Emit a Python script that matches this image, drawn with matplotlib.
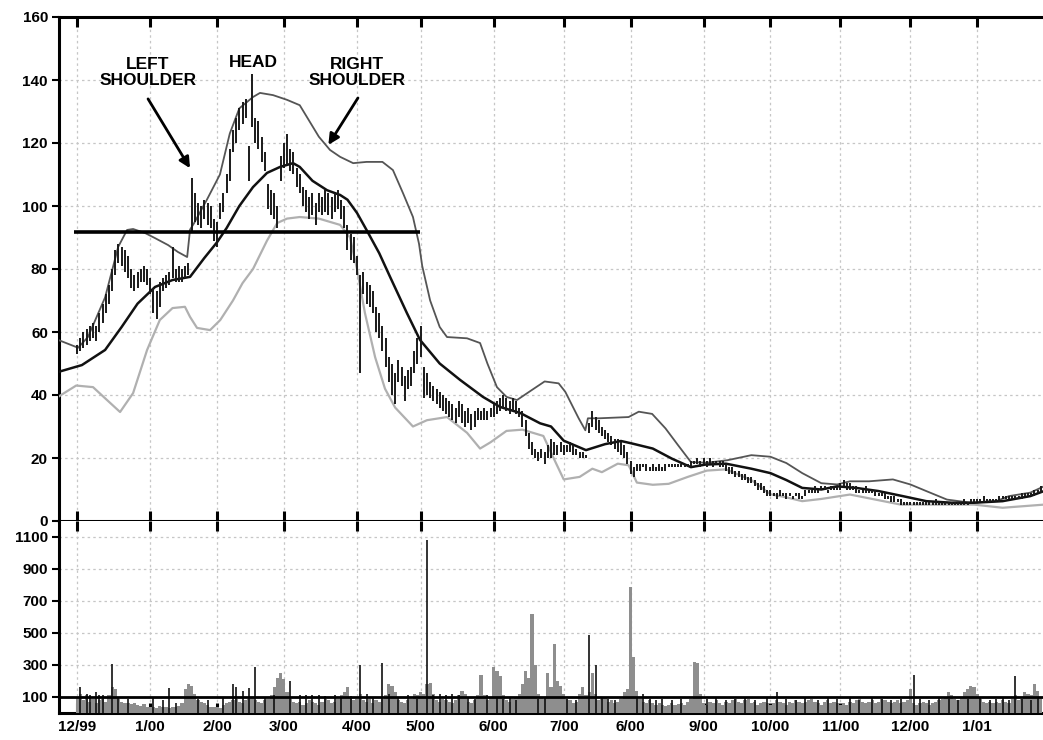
import numpy as np
import pandas as pd
import matplotlib
matplotlib.use("Agg")
import matplotlib.pyplot as plt

plt.rcParams['font.family'] = ['Liberation Sans', 'DejaVu Sans']

# ---------------- data ----------------
start_date = '1999-11-23'
n_days = 311
month_labels = ["12/99", "1/00", "2/00", "3/00", "4/00", "5/00", "6/00",
                "7/00", "6/00", "9/00", "10/00", "11/00", "12/00", "1/01"]

first_bar = 6
high = [
    56, 58, 60, 61, 62, 63, 62, 66, 69, 72,
    75, 80, 86, 88, 87, 86, 84, 80, 78, 79,
    80, 81, 80, 77, 74, 73, 76, 77, 78, 79,
    87, 80, 81, 80, 81, 82, 109, 104, 101, 100,
    102, 101, 100, 96, 95, 101, 104, 110, 118, 124,
    128, 131, 133, 134, 119, 142, 128, 127, 122, 117,
    107, 105, 104, 100, 116, 120, 123, 118, 117, 112,
    110, 106, 105, 103, 104, 101, 104, 103, 105, 104,
    103, 104, 105, 102, 100, 94, 91, 90, 84, 78,
    79, 76, 75, 73, 68, 66, 62, 58, 52, 50,
    47, 51, 49, 46, 48, 49, 54, 58, 62, 49,
    47, 44, 43, 42, 41, 40, 39, 38, 37, 36,
    38, 37, 35, 36, 34, 35, 36, 35, 36, 35,
    36, 37, 38, 39, 40, 39, 38, 39, 38, 36,
    35, 32, 28, 25, 23, 22, 23, 22, 24, 26,
    25, 24, 25, 24, 24, 25, 24, 23, 22, 22,
    21, 31, 35, 33, 32, 30, 29, 28, 27, 26,
    26, 25, 24, 22, 19, 17, 18, 18, 18, 18,
    17, 18, 17, 18, 17, 18, 18, 18, 18, 18,
    18, 18, 18, 19, 19, 20, 19, 20, 19, 20,
    19, 19, 19, 19, 18, 17, 17, 16, 16, 15,
    15, 14, 14, 13, 12, 12, 11, 10, 10, 9,
    9, 10, 9, 9, 9, 8, 9, 9, 8, 10,
    10, 10, 11, 10, 11, 11, 10, 11, 11, 11,
    12, 13, 12, 12, 11, 11, 10, 10, 11, 10,
    10, 10, 9, 9, 9, 8, 8, 8, 7, 7,
    6, 6, 6, 6, 6, 6, 6, 6, 6, 6,
    7, 6, 6, 6, 6, 6, 6, 6, 6, 7,
    6, 7, 7, 7, 7, 8, 7, 7, 7, 7,
    8, 8, 8, 8, 8, 8, 8, 9, 9, 9,
    9, 10, 10, 11]
low = [
    53, 54, 55, 56, 57, 58, 57, 60, 63, 66,
    69, 73, 78, 82, 81, 79, 77, 74, 73, 74,
    76, 76, 75, 72, 66, 64, 68, 73, 74, 75,
    77, 76, 76, 76, 77, 78, 92, 95, 94, 93,
    96, 94, 93, 89, 87, 96, 98, 104, 108, 117,
    120, 124, 126, 128, 108, 125, 120, 118, 114, 111,
    99, 97, 96, 93, 108, 112, 113, 111, 110, 106,
    104, 100, 98, 96, 97, 94, 98, 97, 98, 97,
    96, 98, 99, 96, 93, 86, 83, 82, 78, 47,
    72, 69, 68, 66, 60, 58, 54, 49, 44, 40,
    37, 44, 43, 38, 42, 43, 47, 50, 52, 39,
    40, 39, 38, 37, 36, 35, 34, 33, 32, 31,
    33, 31, 30, 31, 29, 30, 32, 32, 32, 32,
    33, 33, 34, 35, 36, 35, 34, 35, 34, 33,
    30, 27, 23, 21, 20, 19, 20, 18, 20, 20,
    21, 21, 22, 21, 22, 22, 21, 21, 20, 20,
    20, 28, 30, 29, 28, 27, 26, 25, 24, 23,
    22, 21, 20, 18, 15, 14, 16, 16, 17, 16,
    16, 16, 16, 16, 16, 16, 17, 17, 17, 17,
    17, 17, 17, 17, 18, 18, 17, 18, 17, 18,
    17, 18, 17, 17, 16, 15, 15, 14, 14, 13,
    13, 12, 12, 11, 10, 10, 9, 8, 8, 8,
    7, 8, 8, 7, 8, 7, 8, 7, 7, 8,
    9, 9, 9, 9, 10, 10, 9, 10, 10, 10,
    10, 11, 10, 10, 10, 9, 9, 9, 9, 9,
    9, 8, 8, 8, 7, 7, 6, 6, 6, 5,
    5, 5, 5, 5, 5, 5, 5, 5, 5, 5,
    5, 5, 5, 5, 5, 5, 5, 5, 5, 5,
    5, 6, 6, 6, 6, 6, 6, 6, 6, 6,
    6, 7, 7, 7, 7, 7, 7, 7, 8, 8,
    8, 8, 9, 9]

upper_d = [0, 6.3, 9.4, 14.8, 18.9, 21.7, 23.6, 27.4, 30.5, 34.6, 37.7, 40.6, 41.5,
           42.8, 46.8, 50.9, 54, 57, 61.3, 63.5, 67.6, 72, 76, 79, 82, 85.5, 88.7,
           92.8, 97, 102, 105.3, 108.5, 111.6, 113.5, 114.5, 117, 120, 122.3, 128.6,
           132.7, 135, 138, 141, 144.3, 149, 153, 157.4, 159.5, 163.7, 165.8, 166.6,
           170, 179.4, 182.6, 186.8, 191, 195, 199, 204, 210.5, 218, 224, 229, 234,
           240, 245, 249, 255, 262.5, 268, 273, 279.5, 287, 295, 299, 305.7, 310]
upper_v = [57.5, 55, 58.4, 71, 87, 92.4, 92.7, 91.4, 89.8, 87.6, 85.4, 83.8, 92.5,
           94.6, 102, 110, 123, 131, 134.6, 135.9, 135.2, 133.7, 132, 127, 122, 117.8,
           115.6, 113.6, 114, 114, 111.4, 104, 96.5, 88, 81, 70, 61.6, 58.4, 58, 56.5,
           50, 42.5, 39.4, 38.4, 41.6, 44.3, 43.7, 41, 32.6, 28.8, 32.6, 32.6, 33, 34.7,
           34, 29.4, 24, 18.7, 18.5, 19.3, 20.9, 20.4, 18.4, 15.2, 12, 11.6, 12.6, 12.6,
           13.2, 11.6, 9.5, 6.8, 5.8, 6.3, 7.9, 9, 11]

ma_d = [0, 7.5, 14.8, 20, 25, 30.5, 36, 41.5, 46, 50, 53, 57, 61.3, 65.7, 69.8,
        73.9, 76, 80, 84.6, 88.7, 91, 94, 97, 101, 104.4, 109.7, 113.8, 120, 126.4,
        133.6, 139, 145.3, 151.6, 155, 159, 166, 172, 177, 180.5, 187, 193, 199,
        203.5, 210, 218, 224, 229, 234, 240, 245, 251, 258, 265.6, 273, 281, 288,
        297, 305.7, 310]
ma_v = [47.3, 49.5, 54.3, 61.6, 69, 74.3, 76.5, 77.5, 83.5, 88.5, 93, 100, 106,
        110.5, 112.4, 113.6, 112.4, 108, 105, 103.5, 102, 97.8, 92.4, 85, 77.5, 66,
        57.5, 50, 44.8, 39.4, 36.2, 34.3, 31, 30, 25.5, 22.5, 24.4, 25.4, 24.6, 23,
        19.8, 17.1, 17.9, 18.2, 16.6, 15.2, 13, 10.5, 10, 11, 10.5, 9.5, 7.9, 6.3,
        5.8, 5.8, 6.3, 7.9, 9.5]

lower_d = [0, 5.7, 11, 15.4, 19.5, 23.6, 28, 32, 36, 39.9, 41.5, 43.7, 47.8, 51, 55,
           58, 61.3, 65.7, 68.9, 72, 76, 82, 88.7, 91.8, 94, 96.5, 99.7, 102.8, 106,
           111.6, 116, 122.3, 128.6, 132.7, 136, 141, 146, 152.6, 156.5, 159, 164,
           168, 171, 176, 179.4, 182, 187, 192, 198, 204, 210, 218, 224, 229, 234,
           240, 249, 256, 265, 288, 297, 310]
lower_v = [39.4, 43, 42.5, 38.4, 34.6, 40.6, 54.3, 63.8, 67.6, 68, 64.8, 61.3, 60.6,
           63.8, 70, 75.5, 80, 89, 94.6, 96, 96.5, 96, 94, 90, 80, 66, 52, 42, 36, 30,
           32, 33, 28, 23, 25, 28.6, 29, 27, 18.5, 13.2, 14, 16.6, 15.5, 18.2, 17.7,
           12.2, 11.5, 11.8, 14, 16, 16.4, 13, 8.5, 7.5, 6.3, 7, 8.4, 7, 5.2, 5.2, 4.2,
           5.2]

volume = [
    100, 120, 80, 110, 70, 90, 60, 80, 90, 70,
    110, 160, 150, 90, 70, 60, 65, 55, 60, 50,
    45, 55, 40, 35, 40, 30, 45, 40, 35, 30,
    40, 35, 45, 60, 150, 180, 170, 120, 80, 70,
    60, 50, 40, 35, 40, 30, 50, 60, 70, 80,
    90, 70, 60, 80, 90, 100, 80, 70, 60, 80,
    90, 110, 160, 220, 250, 210, 130, 90, 70, 60,
    70, 50, 60, 80, 70, 60, 50, 70, 90, 80,
    60, 70, 90, 110, 130, 160, 100, 80, 90, 120,
    80, 70, 90, 60, 80, 70, 90, 110, 180, 170,
    130, 80, 70, 60, 80, 90, 120, 110, 130, 120,
    180, 190, 120, 80, 70, 90, 80, 70, 60, 80,
    110, 140, 120, 70, 60, 80, 110, 240, 110, 80,
    100, 290, 260, 230, 110, 80, 70, 90, 100, 120,
    180, 260, 220, 620, 300, 120, 100, 90, 250, 160,
    430, 200, 170, 120, 90, 80, 60, 70, 120, 160,
    110, 130, 250, 120, 80, 90, 100, 70, 80, 60,
    70, 90, 130, 150, 790, 350, 140, 90, 70, 60,
    80, 60, 50, 60, 50, 45, 50, 60, 50, 55,
    60, 50, 70, 90, 320, 310, 120, 60, 50, 70,
    60, 80, 60, 50, 70, 60, 80, 90, 70, 60,
    80, 90, 60, 70, 50, 60, 70, 60, 50, 60,
    80, 70, 60, 50, 70, 60, 80, 70, 60, 70,
    80, 90, 70, 60, 50, 70, 80, 60, 70, 60,
    50, 60, 50, 70, 60, 80, 90, 70, 60, 70,
    80, 60, 70, 90, 80, 70, 60, 70, 80, 60,
    70, 80, 150, 60, 50, 60, 70, 60, 50, 60,
    70, 80, 90, 100, 130, 110, 90, 80, 100, 130,
    150, 170, 160, 120, 90, 70, 60, 70, 60, 70,
    60, 80, 70, 60, 90, 110, 80, 90, 130, 120,
    110, 180, 140, 100]

black_days = [7, 9, 10, 12, 13, 14, 17, 19, 22, 30, 33, 35, 37, 44, 47, 52, 55, 56, 58,
              60, 62, 65, 68, 73, 76, 78, 80, 82, 84, 87, 89, 92, 95, 97, 99, 102, 104,
              107, 110, 113, 116, 118, 120, 122, 124, 126, 129, 131, 135, 138, 140, 142,
              144, 151, 153, 160, 163, 167, 169, 171, 173, 175, 182, 184, 186, 188, 190,
              193, 196, 204, 207, 210, 213, 216, 219, 223, 226, 229, 232, 235, 239, 242,
              245, 249, 252, 256, 259, 262, 265, 269, 271, 274, 277, 280, 283, 286, 290,
              293, 295, 297, 299, 301, 303, 306, 308]
black_vol = [165, 120, 110, 130, 110, 110, 306, 100, 90, 100, 80, 155, 60, 90, 80, 100,
             180, 165, 140, 155, 290, 100, 110, 200, 110, 110, 115, 110, 105, 110, 100,
             105, 300, 120, 100, 310, 120, 100, 110, 90, 1080, 110, 120, 115, 120, 110,
             100, 90, 110, 100, 90, 100, 80, 90, 100, 90, 80, 490, 300, 100, 90, 80, 100,
             120, 90, 80, 90, 80, 90, 90, 100, 80, 90, 100, 80, 100, 130, 90, 80, 100, 80,
             100, 90, 100, 80, 100, 90, 80, 90, 240, 90, 80, 100, 90, 80, 90, 100, 80, 90,
             100, 80, 230, 90, 80, 100]

neck_level = 91.8
neck_span = (5, 113.8)

# ---------------- figure ----------------
W, H = 1043, 740
fig = plt.figure(figsize=(W / 100, H / 100), dpi=100)
L, R = 59, 1043
top_y, mid_y, bot_y = 17, 521, 713
ax1 = fig.add_axes([L / W, 1 - mid_y / H, (R - L) / W, (mid_y - top_y) / H])
ax2 = fig.add_axes([L / W, 1 - bot_y / H, (R - L) / W, (bot_y - mid_y) / H], sharex=ax1)

dates = pd.bdate_range(start_date, periods=n_days)
month_key = dates.year * 12 + dates.month
month_pos = [i for i in range(1, n_days) if month_key[i] != month_key[i - 1]]
month_pos = month_pos[:len(month_labels)]

days = np.arange(first_bar, first_bar + len(high))
assert len(high) == len(low) == len(volume)

grid_kw = dict(color='#c6c6c6', linestyle=(0, (2, 2.5)), linewidth=0.9)
lab_kw = dict(fontsize=11, fontweight='bold')

# price panel
ax1.set_xlim(0.3, 309.7)
ax1.set_ylim(0, 160)
ax1.set_yticks(np.arange(0, 161, 20))
ax1.set_yticklabels([str(v) for v in range(0, 161, 20)], **lab_kw)
ax1.set_xticks(month_pos)
ax1.grid(True, **grid_kw)
ax1.set_axisbelow(True)
ax1.tick_params(axis='x', which='major', top=True, bottom=True, direction='in',
                length=7, width=2.2, labelbottom=False, labeltop=False)
ax1.tick_params(axis='y', direction='out', length=5, width=1.5, pad=3)
for s in ['left', 'top', 'bottom']:
    ax1.spines[s].set_linewidth(2.2)
ax1.spines['right'].set_visible(False)

ax1.plot(lower_d, lower_v, color='#b0b0b0', lw=1.6, zorder=3)
ax1.plot(upper_d, upper_v, color='#555555', lw=1.3, zorder=3)
ax1.plot(ma_d, ma_v, color='#111111', lw=1.8, zorder=4)
ax1.vlines(days, low, high, color='#1a1a1a', lw=1.4, zorder=5)
ax1.hlines(neck_level, neck_span[0], neck_span[1], color='black', lw=2.6, zorder=6)

txt_kw = dict(ha='center', va='center', fontsize=12.5, fontweight='bold', linespacing=1.1)
ax1.text(28.3, 142.5, "LEFT\nSHOULDER", **txt_kw)
ax1.text(61.3, 145.7, "HEAD", **txt_kw)
ax1.text(94.0, 142.5, "RIGHT\nSHOULDER", **txt_kw)
arrow_kw = dict(arrowstyle='-|>', color='black', lw=2, mutation_scale=16,
                shrinkA=0, shrinkB=0)
ax1.annotate('', xy=(41.5, 112), xytext=(28.3, 134.0), arrowprops=arrow_kw)
ax1.annotate('', xy=(85.0, 119.4), xytext=(94.3, 134.3), arrowprops=arrow_kw)

# volume panel
ax2.set_ylim(0, 1200)
ax2.set_yticks(np.arange(100, 1101, 200))
ax2.set_yticklabels([str(v) for v in range(100, 1101, 200)], **lab_kw)
ax2.set_xticks(month_pos)
ax2.set_xticklabels(month_labels, **lab_kw)
ax2.grid(True, **grid_kw)
ax2.set_axisbelow(True)
ax2.tick_params(axis='x', which='major', top=True, bottom=True, direction='in',
                length=7, width=2.2, pad=5)
ax2.tick_params(axis='y', direction='out', length=5, width=1.5, pad=3)
for s in ['left', 'bottom']:
    ax2.spines[s].set_linewidth(2.2)
ax2.spines['right'].set_visible(False)
ax2.spines['top'].set_visible(False)

ax2.bar(days, volume, width=1.0, color='#8e8e8e', linewidth=0, zorder=3)
ax2.vlines(black_days, 0, black_vol, color='#111111', lw=1.2, zorder=4)
ax2.axhline(100, color='black', lw=2.0, zorder=5)

fig.savefig('out.png', dpi=100)
